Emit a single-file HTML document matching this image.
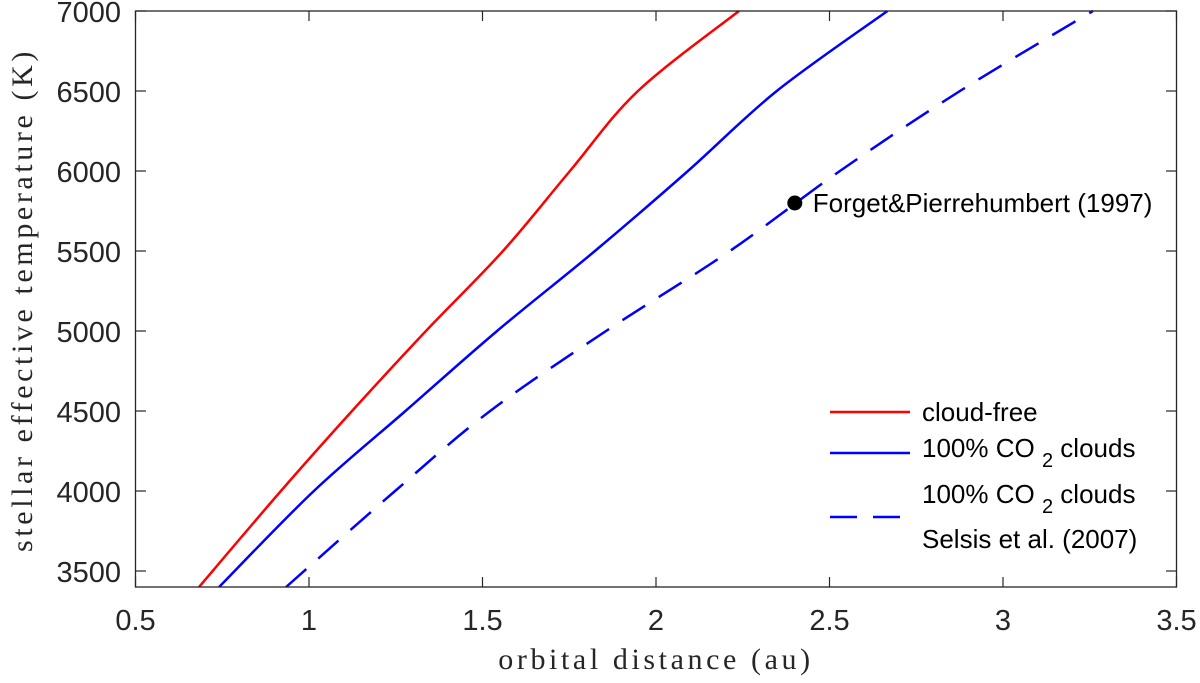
<!DOCTYPE html>
<html><head><meta charset="utf-8"><style>
body{margin:0;background:#fff;}
svg{display:block;}
.t{font-family:"Liberation Sans",sans-serif;font-size:29px;fill:#262626;}
.l{font-family:"Liberation Sans",sans-serif;font-size:26px;fill:#000;}
.a{font-family:"Liberation Serif",serif;font-size:30px;fill:#262626;letter-spacing:3.6px;}
</style></head><body>
<svg id="chart" width="1200" height="683">
<g id="grid"></g>
<g id="series"></g>
<rect x="135.5" y="11" width="1041" height="576" fill="none" stroke="#262626" stroke-width="1.3"/>
<text class="a" x="656" y="669" text-anchor="middle">orbital distance (au)</text>
<text class="a" transform="translate(32,300) rotate(-90)" text-anchor="middle">stellar effective temperature (K)</text>
<g>
<line x1="830" y1="412" x2="910" y2="412" stroke="#f00" stroke-width="2.5"/>
<text class="l" x="922" y="421">cloud-free</text>
<line x1="830" y1="453" x2="910" y2="453" stroke="#00f" stroke-width="2.5"/>
<text class="l" x="922" y="457">100% CO <tspan dy="10" font-size="20">2</tspan><tspan dy="-10"> clouds</tspan></text>
<line x1="830" y1="517" x2="902" y2="517" stroke="#00f" stroke-width="2.5" stroke-dasharray="27,16"/>
<text class="l" x="922" y="503">100% CO <tspan dy="10" font-size="20">2</tspan><tspan dy="-10"> clouds</tspan></text>
<text class="l" x="922" y="548">Selsis et al. (2007)</text>
</g>
</svg>
<script>
const xTicks=[0.5,1,1.5,2,2.5,3,3.5];
const yTicks=[3500,4000,4500,5000,5500,6000,6500,7000];
const temps=[3400,4000,4500,5000,5500,6000,6500,7000];
const redX=[0.683,0.919,1.124,1.337,1.559,1.752,1.948,2.239];
const blueX=[0.741,1.014,1.278,1.542,1.824,2.092,2.348,2.667];
const selsisX=[0.934,1.248,1.522,1.856,2.213,2.530,2.876,3.259];
const pointX=[2.40];const pointT=[5800];
const pointLabel="Forget&Pierrehumbert (1997)";
const X=v=>135.5+(v-0.5)*347;
const Y=v=>587-(v-3400)*0.16;
const NS="http://www.w3.org/2000/svg";
const g=document.getElementById('grid'),s=document.getElementById('series');
function mk(tag,attrs,parent){const e=document.createElementNS(NS,tag);for(const k in attrs)e.setAttribute(k,attrs[k]);parent.appendChild(e);return e;}
xTicks.forEach(v=>{
 const l=mk('line',{x1:X(v),x2:X(v),y1:587,y2:577,stroke:'#262626','stroke-width':1.2},g);
 
 
 const l2=mk('line',{x1:X(v),x2:X(v),y1:11,y2:21,stroke:'#262626','stroke-width':1.2},g);
 
 
 const t=mk('text',{x:X(v),y:630,'text-anchor':'middle',class:'t'},g);t.textContent=v;
 
 
});
yTicks.forEach(v=>{
 const l=mk('line',{x1:135.5,x2:146,y1:Y(v),y2:Y(v),stroke:'#262626','stroke-width':1.2},g);
 
 
 const l2=mk('line',{x1:1176.5,x2:1166,y1:Y(v),y2:Y(v),stroke:'#262626','stroke-width':1.2},g);
 
 
 const t=mk('text',{x:121,y:Y(v)+11,'text-anchor':'end',class:'t'},g);t.textContent=v;
 
 
});
function path(xs,ts){
 const p=xs.map((x,i)=>[X(x),Y(ts[i])]);
 let d='M'+p[0].join(',');
 for(let i=0;i<p.length-1;i++){
  const p0=p[Math.max(i-1,0)],p1=p[i],p2=p[i+1],p3=p[Math.min(i+2,p.length-1)];
  d+=` C${p1[0]+(p2[0]-p0[0])/6},${p1[1]+(p2[1]-p0[1])/6} ${p2[0]-(p3[0]-p1[0])/6},${p2[1]-(p3[1]-p1[1])/6} ${p2[0]},${p2[1]}`;
 }
 return d;
}
const r=mk('path',{d:path(redX,temps),fill:'none',stroke:'#f00','stroke-width':2.5},s);


const b=mk('path',{d:path(blueX,temps),fill:'none',stroke:'#00f','stroke-width':2.5},s);


const d=mk('path',{d:path(selsisX,temps),fill:'none',stroke:'#00f','stroke-width':2.5,'stroke-dasharray':'27,16'},s);


pointX.forEach((x,i)=>{
 const c=mk('circle',{cx:X(x),cy:Y(pointT[i]),r:7.5,fill:'#000'},s);
 
 
 const t=mk('text',{x:X(x)+18,y:Y(pointT[i])+9,class:'l'},s);t.textContent=pointLabel;
 
 
});
</script>
</body></html>
